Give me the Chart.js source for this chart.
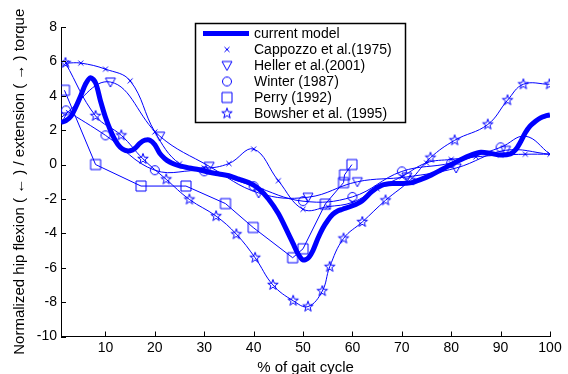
<!DOCTYPE html>
<html>
<head>
<meta charset="utf-8">
<title>Hip torque</title>
<script src="https://cdn.jsdelivr.net/npm/chart.js@4.4.0/dist/chart.umd.min.js"></script>
<style>
    html, body { margin: 0; padding: 0; background: #fff; }
</style>
</head>
<body>
<canvas id="torqueChart" width="568" height="374"></canvas>
<script>
// valores (% do ciclo, torque normalizado)
const modelX = [1, 2, 3, 4, 5, 6, 7, 8, 9, 10, 11, 12, 13, 14, 15, 16, 17, 18, 19, 20, 21, 22, 23, 24, 25,
    27, 29, 31, 33, 35, 37, 39, 41, 43, 45, 47, 48, 49, 50, 51, 52, 53, 54, 55, 56, 57, 58,
    60, 62, 64, 66, 68, 70, 72, 74, 76, 78, 80, 82, 84, 86, 88, 90, 92, 93, 94, 95, 96, 97, 98, 99, 100];
const modelY = [2.45, 2.55, 2.8, 3.35, 4.0, 4.7, 5.05, 4.75, 3.7, 2.75, 2.0, 1.4, 1.0, 0.82, 0.8, 0.95, 1.25, 1.42, 1.42, 1.15, 0.65, 0.35, 0.15, 0.02, -0.08,
    -0.2, -0.3, -0.45, -0.55, -0.65, -0.85, -1.05, -1.4, -2.0, -2.85, -4.0, -4.6, -5.2, -5.55, -5.45, -5.0, -4.3, -3.7, -3.25, -2.9, -2.7, -2.6,
    -2.4, -2.1, -1.55, -1.2, -1.1, -1.1, -1.05, -0.85, -0.6, -0.3, 0.0, 0.3, 0.55, 0.72, 0.65, 0.55, 0.62, 0.85, 1.3, 1.85, 2.25, 2.5, 2.7, 2.82, 2.88];

const cappozzoX = [2, 5, 10, 15, 20, 25, 30, 35, 40, 45, 50, 55, 60, 65, 70, 75, 80, 85, 90, 95, 100];
const cappozzoY = [5.9, 5.9, 5.55, 4.87, 1.9, 0.05, -0.2, 0.06, 0.9, -0.94, -2.6, -2.45, -2.2, -1.4, -0.7, 0.1, 0.3, 0.45, 0.55, 0.6, 0.6];

const hellerX = [1.2, 11, 21, 31, 41, 51, 61, 71, 81, 91, 100];
const hellerY = [2.77, 4.8, 1.65, -0.1, -1.65, -1.9, -1.0, -0.72, -0.2, 0.83, 0.6];

const winterX = [2, 10, 20, 30, 40, 50, 60, 70, 80, 90, 95, 100];
const winterY = [3.15, 1.7, -0.33, -0.39, -1.26, -2.13, -1.88, -0.4, 0.09, 1.0, 1.65, 0.6];

const perryX = [1.7, 8, 17.2, 26.3, 34.3, 39.9, 47.9, 50, 54.5, 58.2, 58.4, 59.9];
const perryY = [4.32, 0, -1.25, -1.25, -2.27, -3.66, -5.42, -4.9, -2.3, -1.05, -0.6, 0];

const bowsherX = [1.9, 8, 13.2, 17.6, 22.3, 27, 32.4, 36.5, 40.3, 43.9, 48, 51, 53.9, 55.4, 58.2, 62, 66.7, 71.7, 75.8, 80.7, 87.4, 91.4, 94.6, 99.9];
const bowsherY = [5.91, 2.83, 1.7, 0.33, -0.86, -2.03, -3.0, -4.05, -5.42, -7.0, -7.92, -8.26, -7.36, -5.95, -4.3, -3.34, -2.08, -0.91, 0.4, 1.41, 2.33, 3.74, 4.67, 4.67];

const xTicks = [10, 20, 30, 40, 50, 60, 70, 80, 90, 100];
const yTicks = [-10, -8, -6, -4, -2, 0, 2, 4, 6, 8];

const azul = '#0000ff';
const fonte = "'Liberation Sans', Arial, sans-serif";

function pontos(xs, ys) {
    return xs.map((x, i) => ({ x: x, y: ys[i] }));
}

// marcadores no estilo do matlab, desenhados num canvas pequeno
function marcador(tipo) {
    const c = document.createElement('canvas');
    c.width = 14;
    c.height = 14;
    const g = c.getContext('2d');
    g.strokeStyle = azul;
    g.lineWidth = 1;
    const m = 7;
    g.beginPath();
    if (tipo === 'x') {
        g.moveTo(m - 2.5, m - 2.5); g.lineTo(m + 2.5, m + 2.5);
        g.moveTo(m + 2.5, m - 2.5); g.lineTo(m - 2.5, m + 2.5);
    } else if (tipo === 'tri') {
        g.moveTo(m - 5, m - 4); g.lineTo(m + 5, m - 4); g.lineTo(m, m + 5); g.closePath();
    } else if (tipo === 'circ') {
        g.arc(m, m, 4.5, 0, Math.PI * 2);
    } else if (tipo === 'quad') {
        g.rect(m - 5, m - 5, 10, 10);
    } else if (tipo === 'star') {
        for (let i = 0; i < 10; i++) {
            const r = i % 2 ? 2.2 : 5.5;
            const a = -Math.PI / 2 + i * Math.PI / 5;
            const px = m + r * Math.cos(a);
            const py = m + r * Math.sin(a);
            if (i === 0) g.moveTo(px, py); else g.lineTo(px, py);
        }
        g.closePath();
    }
    g.stroke();
    return c;
}

const mX = marcador('x');
const mTri = marcador('tri');
const mCirc = marcador('circ');
const mQuad = marcador('quad');
const mStar = marcador('star');

function serie(label, xs, ys, estilo, tensao, semMarca) {
    return {
        label: label,
        data: pontos(xs, ys),
        borderColor: azul,
        backgroundColor: azul,
        borderWidth: 1,
        pointStyle: estilo,
        pointRadius: xs.map((x, i) => (semMarca && semMarca.includes(i)) ? 0 : 4),
        tension: tensao,
        fill: false
    };
}

// tracinhos para dentro e legenda dentro do gráfico
const tracosPlugin = {
    id: 'tracos',
    afterDraw(chart) {
        const ctx = chart.ctx;
        const xs = chart.scales.x;
        const ys = chart.scales.y;
        const area = chart.chartArea;
        ctx.save();
        ctx.strokeStyle = '#000';
        ctx.lineWidth = 1;
        ctx.beginPath();
        xTicks.forEach(v => {
            const px = Math.round(xs.getPixelForValue(v)) + 0.5;
            ctx.moveTo(px, area.bottom);
            ctx.lineTo(px, area.bottom - 5);
        });
        yTicks.forEach(v => {
            const py = Math.round(ys.getPixelForValue(v)) + 0.5;
            ctx.moveTo(area.left, py);
            ctx.lineTo(area.left + 5, py);
        });
        ctx.stroke();
        ctx.restore();
    }
};

const legendaPlugin = {
    id: 'legenda',
    afterDraw(chart) {
        const ctx = chart.ctx;
        const sets = chart.data.datasets;
        ctx.save();
        ctx.fillStyle = '#fff';
        ctx.fillRect(195, 23, 211, 100);
        ctx.strokeStyle = '#000';
        ctx.lineWidth = 1.5;
        ctx.strokeRect(195.5, 23.5, 210, 99);
        ctx.font = '14px ' + fonte;
        ctx.textBaseline = 'middle';
        ctx.fillStyle = '#000';
        sets.forEach((ds, i) => {
            const y = 33.5 + i * 16;
            if (i === 0) {
                ctx.strokeStyle = azul;
                ctx.lineWidth = 5;
                ctx.beginPath();
                ctx.moveTo(203, y);
                ctx.lineTo(249, y);
                ctx.stroke();
            } else {
                ctx.drawImage(ds.pointStyle, 227 - 7, y - 7);
            }
            ctx.fillText(ds.label, 254, y + 0.5);
        });
        ctx.restore();
    }
};

const ctx = document.getElementById('torqueChart').getContext('2d');
const torqueChart = new Chart(ctx, {
    type: 'line',
    data: {
        datasets: [
            {
                label: 'current model',
                data: pontos(modelX, modelY),
                borderColor: azul,
                borderWidth: 5,
                pointRadius: 0,
                tension: 0.3,
                fill: false
            },
            serie('Cappozzo et al.(1975)', cappozzoX, cappozzoY, mX, 0.4),
            serie('Heller et al.(2001)', hellerX, hellerY, mTri, 0.4, [10]),
            serie('Winter (1987)', winterX, winterY, mCirc, 0.4, [10, 11]),
            serie('Perry (1992)', perryX, perryY, mQuad, 0),
            serie('Bowsher et al. (1995)', bowsherX, bowsherY, mStar, 0.4)
        ]
    },
    options: {
        responsive: false,
        animation: false,
        devicePixelRatio: 1,
        layout: { padding: { top: 27, right: 18, left: 0, bottom: 0 } },
        plugins: {
            legend: { display: false },
            tooltip: { enabled: false }
        },
        scales: {
            x: {
                type: 'linear',
                min: 1,
                max: 100,
                afterBuildTicks: (s) => { s.ticks = xTicks.map(v => ({ value: v })); },
                afterFit: (s) => { s.height = 37.5; },
                grid: { display: false, drawTicks: false },
                border: { display: true, color: '#000', width: 1 },
                ticks: { color: '#000', font: { family: fonte, size: 14 }, padding: 3, maxRotation: 0, autoSkip: false },
                title: {
                    display: true,
                    text: '% of gait cycle',
                    color: '#000',
                    font: { family: fonte, size: 15 },
                    padding: { top: 0, bottom: -3 }
                }
            },
            y: {
                min: -10,
                max: 8,
                afterBuildTicks: (s) => { s.ticks = yTicks.map(v => ({ value: v })); },
                afterFit: (s) => { s.width = 61; },
                grid: { display: false, drawTicks: false },
                border: { display: true, color: '#000', width: 1 },
                ticks: { color: '#000', font: { family: fonte, size: 14 }, padding: 4 },
                title: {
                    display: true,
                    text: 'Normalized hip flexion ( \u2190 ) / extension ( \u2192 ) torque',
                    color: '#000',
                    font: { family: fonte, size: 15 },
                    padding: { top: 11, bottom: 0 }
                }
            }
        }
    },
    plugins: [tracosPlugin, legendaPlugin]
});
</script>
</body>
</html>
